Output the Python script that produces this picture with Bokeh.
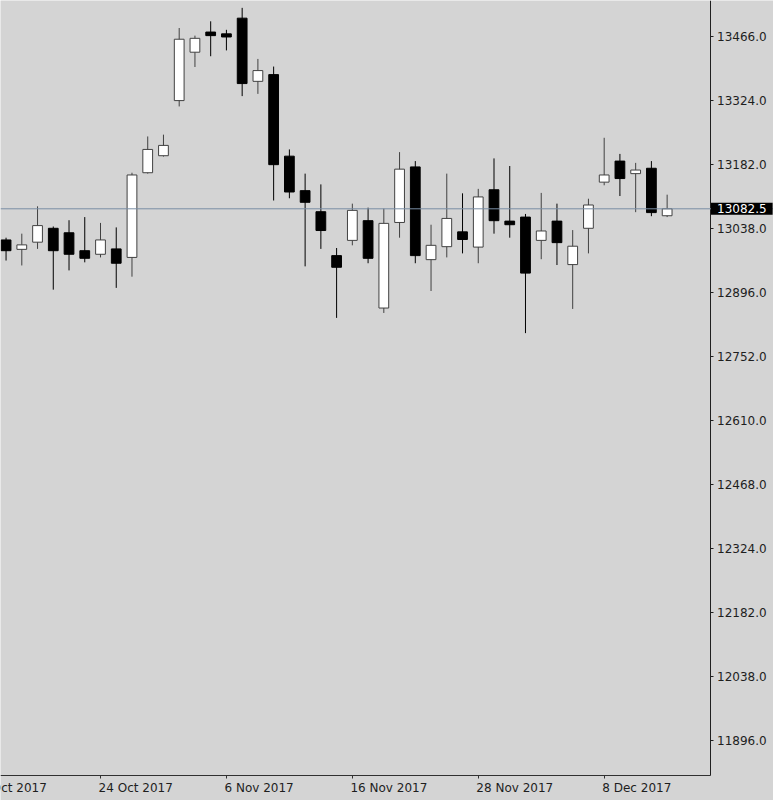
import numpy as np
from bokeh.plotting import figure
from bokeh.models import (ColumnDataSource, FixedTicker, PrintfTickFormatter, Span,
                          Label, Range1d)
from bokeh.embed import file_html
from bokeh.resources import INLINE

# ---------------- data (daily bars) ----------------
dates = ["16 Oct", "17 Oct", "18 Oct", "19 Oct", "20 Oct", "23 Oct", "24 Oct", "25 Oct",
         "26 Oct", "27 Oct", "30 Oct", "1 Nov", "2 Nov", "3 Nov", "6 Nov", "7 Nov",
         "8 Nov", "9 Nov", "10 Nov", "13 Nov", "14 Nov", "15 Nov", "16 Nov", "17 Nov",
         "20 Nov", "21 Nov", "22 Nov", "23 Nov", "24 Nov", "27 Nov", "28 Nov", "29 Nov",
         "30 Nov", "1 Dec", "4 Dec", "5 Dec", "6 Dec", "7 Dec", "8 Dec", "11 Dec",
         "12 Dec", "13 Dec", "14 Dec"]
opens = [13013, 12992, 13008, 13039, 13029, 12989, 12981, 12993, 12974, 13163, 13201,
         13324, 13432, 13477, 13473, 13508, 13367, 13382, 13200, 13123, 13076, 12978,
         13012, 13056, 12861, 13052, 13176, 12969, 12998, 13031, 12997, 13125, 13055,
         13064, 13012, 13055, 12958, 13039, 13142, 13189, 13161, 13173, 13067]
highs = [13018, 13027, 13088, 13043, 13057, 13064, 13051, 13041, 13163, 13244, 13248,
         13486, 13469, 13501, 13482, 13531, 13417, 13400, 13215, 13161, 13137, 12995,
         13094, 13085, 13083, 13209, 13189, 13047, 13161, 13117, 13127, 13195, 13178,
         13071, 13118, 13094, 13035, 13105, 13241, 13205, 13185, 13189, 13114]
lows = [12967, 12956, 12993, 12902, 12945, 12963, 12974, 12906, 12931, 13161, 13199,
        13311, 13399, 13423, 13436, 13334, 13339, 13101, 13106, 12954, 12993, 12839,
        13001, 12961, 12850, 13018, 12961, 12899, 12974, 12983, 12961, 13027, 13018,
        12805, 12970, 12957, 12859, 12983, 13135, 13111, 13075, 13066, 13064]
closes = [12989, 13002, 13045, 12989, 12981, 12972, 13013, 12961, 13158, 13215, 13224,
          13461, 13463, 13469, 13466, 13362, 13391, 13181, 13120, 13097, 13034, 12952,
          13079, 12972, 13050, 13171, 12978, 13001, 13061, 13014, 13109, 13056, 13047,
          12939, 13033, 13007, 12999, 13091, 13158, 13150, 13169, 13074, 13082.5]

price_ticks = [11896, 12038, 12182, 12324, 12468, 12610, 12752, 12896, 13038, 13182, 13324, 13466]
date_tick_labels = ["12 Oct 2017", "24 Oct 2017", "6 Nov 2017", "16 Nov 2017", "28 Nov 2017", "8 Dec 2017"]
bars_between_labels = 8
last_price = 13082.5

# ---------------- layout / styling ----------------
W, H = 773, 800
BG = "#d4d4d4"
BULL_LINE = "#404040"
BEAR = "#000000"
TEXT = "#1e1e1e"
FONT = "DejaVu Sans"

BAR_PX = 15.74            # pixel pitch of one bar
ANCHOR_BAR = dates.index("24 Oct")
ANCHOR_BAR_PX = 100.0
UNITS_PER_PX = 2.232      # price units per pixel
ANCHOR_PRICE_PX = 208.3   # pixel row of the last price
AXIS_RIGHT_PX = 709.5
AXIS_BOTTOM_PX = 775.0


def px_to_x(px):
    return ANCHOR_BAR + (px - ANCHOR_BAR_PX) / BAR_PX


def px_to_y(py):
    return last_price - (py - ANCHOR_PRICE_PX) * UNITS_PER_PX


x = np.arange(len(dates))
o = np.array(opens, dtype=float)
h = np.array(highs, dtype=float)
l = np.array(lows, dtype=float)
c = np.array(closes, dtype=float)
bull = c >= o

src_bull = ColumnDataSource(dict(x=x[bull], top=c[bull], bottom=o[bull], high=h[bull], low=l[bull]))
src_bear = ColumnDataSource(dict(x=x[~bull], top=o[~bull], bottom=c[~bull], high=h[~bull], low=l[~bull]))

first_tick = ANCHOR_BAR - bars_between_labels
tick_pos = [first_tick + k * bars_between_labels for k in range(len(date_tick_labels))]

x_start, x_end = px_to_x(0), px_to_x(W)
y_top, y_bottom = px_to_y(0), px_to_y(H)
axis_x = px_to_x(AXIS_RIGHT_PX)
axis_y = px_to_y(AXIS_BOTTOM_PX)

p = figure(width=W, height=H, output_backend="svg", toolbar_location=None,
           y_axis_location="right",
           x_range=Range1d(x_start, x_end), y_range=Range1d(y_bottom, y_top),
           min_border=0)
p.background_fill_color = BG
p.border_fill_color = BG
p.outline_line_color = None
p.xgrid.visible = False
p.ygrid.visible = False

# wicks
p.segment(x0="x", y0="high", x1="x", y1="low", source=src_bear, line_color=BEAR, line_width=1)
p.segment(x0="x", y0="high", x1="x", y1="low", source=src_bull, line_color=BULL_LINE, line_width=1)
# bodies
p.vbar(x="x", top="top", bottom="bottom", width=0.62, source=src_bear,
       fill_color=BEAR, line_color=BEAR, line_width=1)
p.vbar(x="x", top="top", bottom="bottom", width=0.62, source=src_bull,
       fill_color="white", line_color=BULL_LINE, line_width=1)

# last price line
p.add_layout(Span(location=last_price, dimension="width", line_color="#7a8ea4", line_width=1))

# y axis (right), placed at the chart's right edge
ya = p.yaxis[0]
ya.fixed_location = axis_x
ya.bounds = (axis_y, y_top)
ya.ticker = FixedTicker(ticks=price_ticks)
ya.formatter = PrintfTickFormatter(format="%.1f")
ya.major_tick_in = 0
ya.major_tick_out = 3
ya.minor_tick_line_color = None
ya.major_label_standoff = 4
ya.axis_line_color = "#202020"
ya.major_tick_line_color = "#202020"
ya.major_label_text_font = FONT
ya.major_label_text_font_size = "12px"
ya.major_label_text_color = TEXT

# x axis (below): line and tick marks; labels are left-aligned at the ticks as in the source
xa = p.xaxis[0]
xa.fixed_location = axis_y
xa.bounds = (x_start, axis_x)
xa.ticker = FixedTicker(ticks=tick_pos)
xa.major_label_overrides = {t: "" for t in tick_pos}
xa.major_tick_in = 0
xa.major_tick_out = 3
xa.minor_tick_line_color = None
xa.axis_line_color = "#303030"
xa.major_tick_line_color = "#303030"

label_y = px_to_y(787.5)
for pos, txt in zip(tick_pos, date_tick_labels):
    p.add_layout(Label(x=pos - 0.12, y=label_y, text=txt,
                       text_align="left", text_baseline="alphabetic", text_font=FONT,
                       text_font_size="12px", text_color=TEXT))

# last price tag on the price axis
p.add_layout(Label(x=px_to_x(710.5), y=last_price,
                   text=f"{last_price:.1f}", text_align="left", text_baseline="middle",
                   text_font=FONT, text_font_size="12px", text_color="white",
                   background_fill_color="black",
                   padding=dict(left=6, right=6, top=1, bottom=2)))

open("out.html", "w").write(file_html(p, INLINE))
